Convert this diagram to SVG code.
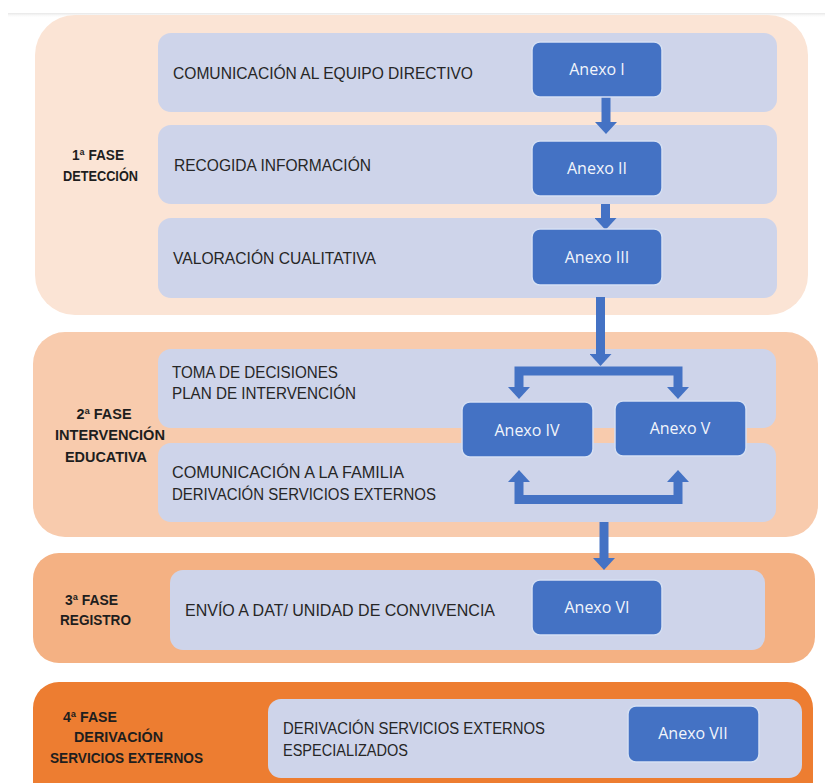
<svg xmlns="http://www.w3.org/2000/svg" width="825" height="783" viewBox="0 0 825 783">
<defs>
<marker id="head" markerUnits="userSpaceOnUse" markerWidth="12" markerHeight="22" viewBox="0 -11 12 22" refX="0" refY="0" orient="auto">
<path d="M0,-11 L12,0 L0,11 Z" fill="#4472C4"/>
</marker>
<linearGradient id="shade" x1="0" y1="0" x2="0" y2="1">
<stop offset="0" stop-color="#e6e6e6"/>
<stop offset="1" stop-color="#ffffff" stop-opacity="0"/>
</linearGradient>
</defs>
<style>
.row{fill:#CED4EA;}
.anx{fill:#4472C4;stroke:#D6E0F3;stroke-width:1.5;}
.anxt{font-family:"Open Sans","Liberation Sans",sans-serif;font-size:16px;fill:#F2F5FB;text-anchor:middle;}
.t{font-family:"Liberation Sans",Arial,sans-serif;font-size:16px;fill:#262626;}
.lab{font-family:"Liberation Sans",Arial,sans-serif;font-size:14.5px;font-weight:bold;fill:#1E1E1E;}
.conn path{fill:none;stroke:#4472C4;stroke-width:9;stroke-linejoin:miter;marker-end:url(#head);}
</style>
<rect x="0" y="0" width="825" height="783" fill="#FFFFFF"/>
<rect x="8" y="13" width="817" height="5" fill="url(#shade)"/>

<g id="fase1">
<rect x="35" y="15" width="773" height="300" rx="40" fill="#FBE4D5"/>
<text class="lab" x="72" y="160" textLength="52" lengthAdjust="spacingAndGlyphs">1ª FASE</text>
<text class="lab" x="63" y="181" textLength="75" lengthAdjust="spacingAndGlyphs">DETECCIÓN</text>
</g>
<g id="row-comunicacion">
<rect class="row" x="158" y="33" width="619" height="79" rx="13"/>
<text class="t" x="173" y="79" textLength="300" lengthAdjust="spacingAndGlyphs">COMUNICACIÓN AL EQUIPO DIRECTIVO</text>
</g>
<g id="row-recogida">
<rect class="row" x="158" y="125" width="619" height="79" rx="13"/>
<text class="t" x="174" y="171" textLength="197" lengthAdjust="spacingAndGlyphs">RECOGIDA INFORMACIÓN</text>
</g>
<g id="row-valoracion">
<rect class="row" x="158" y="218" width="619" height="80" rx="13"/>
<text class="t" x="173" y="264" textLength="203" lengthAdjust="spacingAndGlyphs">VALORACIÓN CUALITATIVA</text>
</g>

<g id="fase2">
<rect x="33" y="332" width="785" height="205" rx="32" fill="#F8CBAD"/>
<text class="lab" x="104" y="419" text-anchor="middle" textLength="55" lengthAdjust="spacingAndGlyphs">2ª FASE</text>
<text class="lab" x="110" y="440" text-anchor="middle" textLength="110" lengthAdjust="spacingAndGlyphs">INTERVENCIÓN</text>
<text class="lab" x="106" y="462" text-anchor="middle" textLength="82" lengthAdjust="spacingAndGlyphs">EDUCATIVA</text>
</g>
<g id="row-toma">
<rect class="row" x="158" y="349" width="618" height="79" rx="13"/>
<text class="t" x="172" y="378" textLength="166" lengthAdjust="spacingAndGlyphs">TOMA DE DECISIONES</text>
<text class="t" x="172" y="399" textLength="184" lengthAdjust="spacingAndGlyphs">PLAN DE INTERVENCIÓN</text>
</g>
<g id="row-familia">
<rect class="row" x="158" y="443" width="618" height="79" rx="13"/>
<text class="t" x="172" y="478" textLength="232" lengthAdjust="spacingAndGlyphs">COMUNICACIÓN A LA FAMILIA</text>
<text class="t" x="172" y="500" textLength="264" lengthAdjust="spacingAndGlyphs">DERIVACIÓN SERVICIOS EXTERNOS</text>
</g>

<g id="fase3">
<rect x="33" y="553" width="782" height="110" rx="26" fill="#F4B183"/>
<text class="lab" x="65" y="605" textLength="53" lengthAdjust="spacingAndGlyphs">3ª FASE</text>
<text class="lab" x="60" y="625" textLength="71" lengthAdjust="spacingAndGlyphs">REGISTRO</text>
</g>
<g id="row-envio">
<rect class="row" x="170" y="570" width="595" height="80" rx="13"/>
<text class="t" x="185" y="616" textLength="310" lengthAdjust="spacingAndGlyphs">ENVÍO A DAT/ UNIDAD DE CONVIVENCIA</text>
</g>

<g id="fase4">
<rect x="33" y="682" width="780" height="130" rx="26" fill="#ED7D31"/>
<text class="lab" x="63" y="722" textLength="54" lengthAdjust="spacingAndGlyphs">4ª FASE</text>
<text class="lab" x="74" y="742" textLength="89" lengthAdjust="spacingAndGlyphs">DERIVACIÓN</text>
<text class="lab" x="50" y="763" textLength="153" lengthAdjust="spacingAndGlyphs">SERVICIOS EXTERNOS</text>
</g>
<g id="row-derivacion">
<rect class="row" x="268" y="699" width="534" height="79" rx="13"/>
<text class="t" x="283" y="734" textLength="262" lengthAdjust="spacingAndGlyphs">DERIVACIÓN SERVICIOS EXTERNOS</text>
<text class="t" x="283" y="756" textLength="125" lengthAdjust="spacingAndGlyphs">ESPECIALIZADOS</text>
</g>

<g class="conn" id="connectors">
<path d="M606,97 V122"/>
<path d="M605.5,204 V218"/>
<path d="M600.5,297 V354"/>
<path d="M600,371 H519 V387"/>
<path d="M600,371 H678 V387"/>
<path d="M600,499.5 H519 V482"/>
<path d="M600,499.5 H678 V482"/>
<path d="M604,522 V558"/>
</g>

<g id="anexo1"><rect class="anx" x="532" y="42" width="130" height="55" rx="8"/><text class="anxt" x="597" y="75">Anexo I</text></g>
<g id="anexo2"><rect class="anx" x="532" y="141" width="130" height="55" rx="8"/><text class="anxt" x="597" y="174">Anexo II</text></g>
<g id="anexo3"><rect class="anx" x="532" y="229" width="130" height="56" rx="8"/><text class="anxt" x="597" y="263">Anexo III</text></g>
<g id="anexo4"><rect class="anx" x="462" y="402" width="131" height="55" rx="8"/><text class="anxt" x="527" y="436">Anexo IV</text></g>
<g id="anexo5"><rect class="anx" x="615" y="401" width="131" height="55" rx="8"/><text class="anxt" x="680" y="434">Anexo V</text></g>
<g id="anexo6"><rect class="anx" x="532" y="580" width="130" height="55" rx="8"/><text class="anxt" x="597" y="613">Anexo VI</text></g>
<g id="anexo7"><rect class="anx" x="628" y="706" width="131" height="56" rx="8"/><text class="anxt" x="693" y="739">Anexo VII</text></g>
</svg>
